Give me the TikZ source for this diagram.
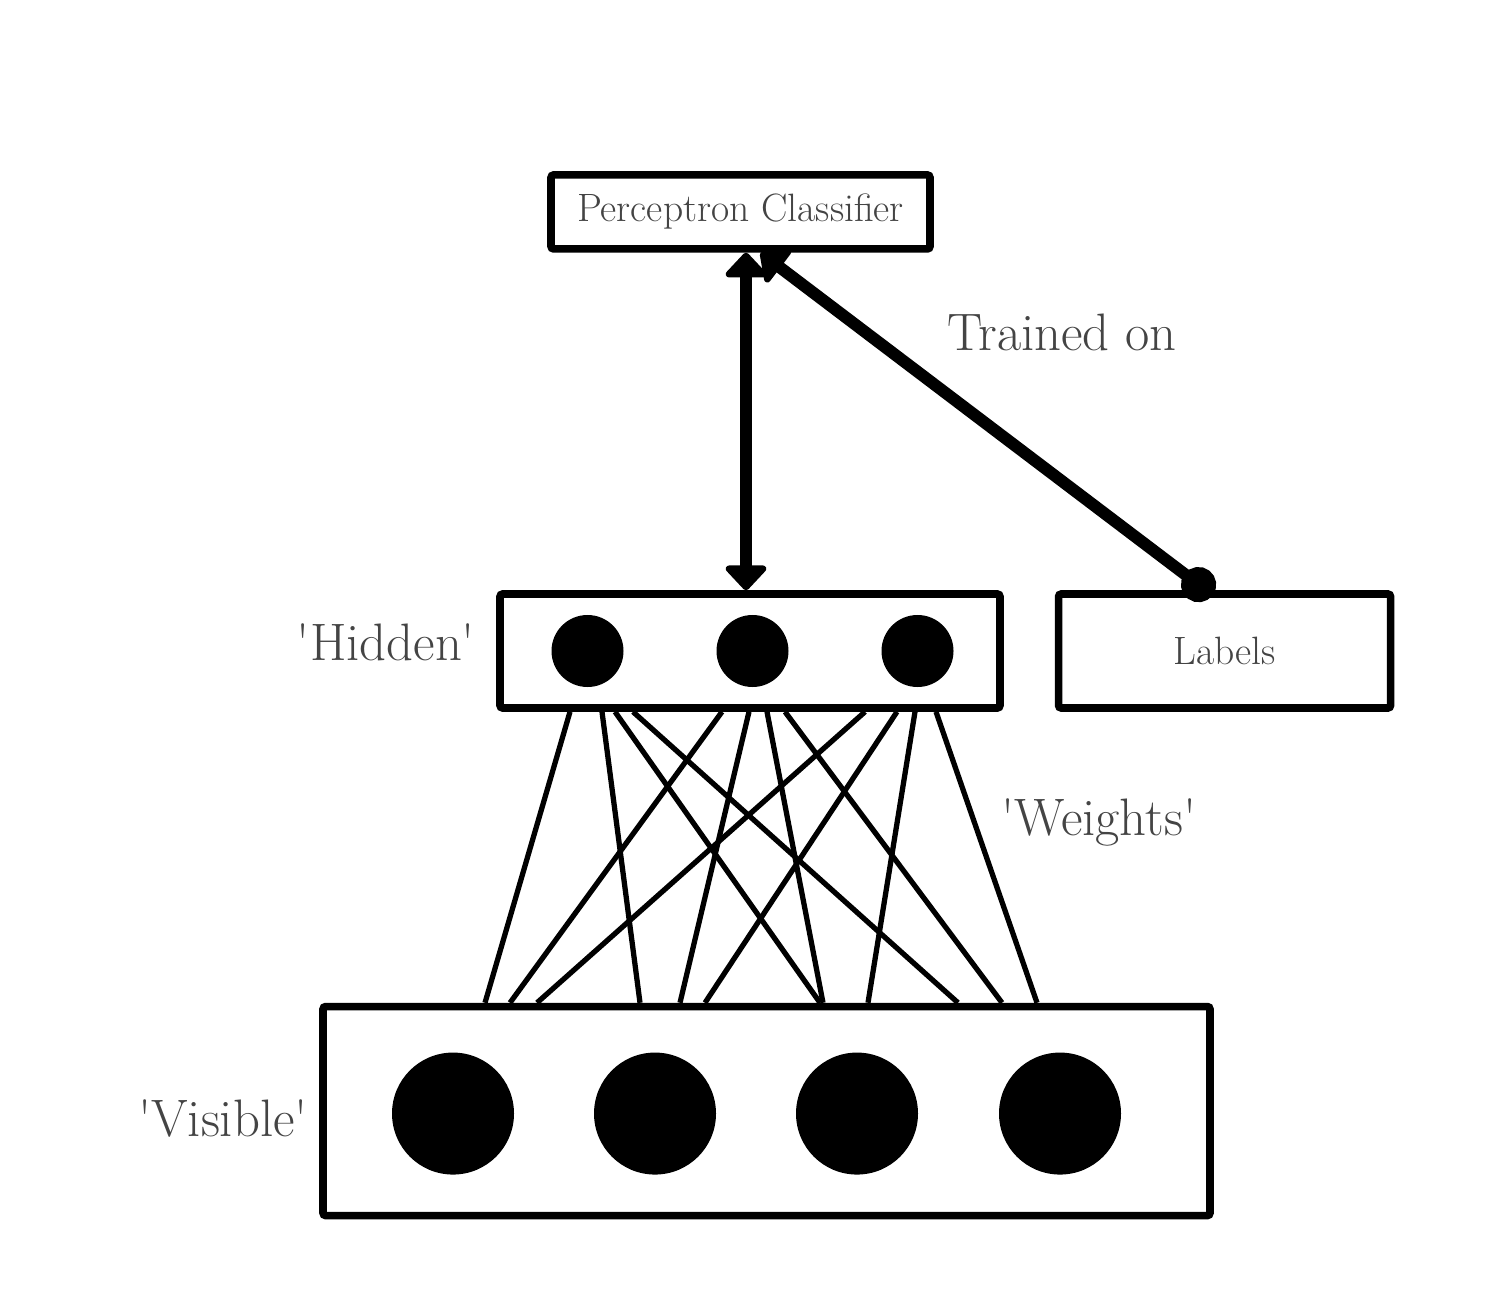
\documentclass[tikz,border=0pt]{standalone}
\usetikzlibrary{positioning,arrows.meta}
\definecolor{txtgray}{HTML}{444444}
\tikzset{
  layerbox/.style={
    rectangle,
    rounded corners=1.5pt,
    draw=black, line width=4.3pt,
    fill=white,
    inner sep=0pt,
    text=txtgray,
    font=\fontsize{22.5}{26}\selectfont},
  neuron/.style={circle, fill=black, inner sep=0pt},
  weight/.style={draw, line width=3pt},
  link/.style={draw, line width=6.8pt},
  thead/.tip={Triangle[width=27pt,length=15pt,round]},
  tag/.style={text=txtgray, font=\fontsize{30}{36}\selectfont},
}
\begin{document}
\begin{tikzpicture}
    \useasboundingbox (0,0) rectangle (29.76,26.08);

    % layers
    \node [layerbox, minimum width=10cm, minimum height=2.28cm] (hid) at (15,13.06) {};
    \node [layerbox, minimum width=7.58cm, minimum height=1.48cm, above=6.75cm of hid, xshift=-0.19cm] (perc) {Perceptron Classifier};
    \node [layerbox, minimum width=6.64cm, minimum height=2.28cm, right=1.02cm of hid] (lab) {Labels};
    \node [layerbox, minimum width=17.74cm, minimum height=4.18cm, below=5.82cm of hid, xshift=0.33cm] (vis) {};

    % units
    \foreach \x [count=\i] in {-3.25,0.05,3.35}
        \node [neuron, minimum size=1.44cm] (h\i) at ([xshift=\x cm]hid.center) {};
    \foreach \x [count=\i] in {-6.27,-2.23,1.81,5.87}
        \node [neuron, minimum size=2.44cm] (v\i) at ([xshift=\x cm, yshift=-0.05cm]vis.center) {};

    % weights between the layers
    \foreach \a/\b in {-3.6/-5.63, -2.96/-2.53, -2.7/1.07, -2.34/3.83,
                       -0.56/-5.13, -0.02/-1.73, 0.34/1.13, 0.7/4.71,
                       2.3/-4.59, 2.94/-1.23, 3.3/2.03, 3.72/5.41}
        \draw [weight] ([xshift=\a cm]hid.south) -- ([xshift=\b cm]vis.north);

    % classifier links
    \draw [link, thead-thead]
        ([xshift=-0.08cm]hid.north) -- ([xshift=-0.08cm]hid.north |- perc.south);
    \draw [link, {Circle[length=20pt]}-thead]
        ([xshift=-0.24cm, yshift=-0.1cm]lab.north) -- ([xshift=0.4cm]perc.south);

    % annotations
    \node [tag] (thid) at (7.72,13.24) {\textquotesingle Hidden\textquotesingle};
    \node [tag] (tvis) at (4.46,3.72) {\textquotesingle Visible\textquotesingle};
    \node [tag] (twgt) at (21.98,9.64) {\textquotesingle Weights\textquotesingle};
    \node [tag] (ttrn) at (21.24,19.44) {Trained on};
\end{tikzpicture}
\end{document}
